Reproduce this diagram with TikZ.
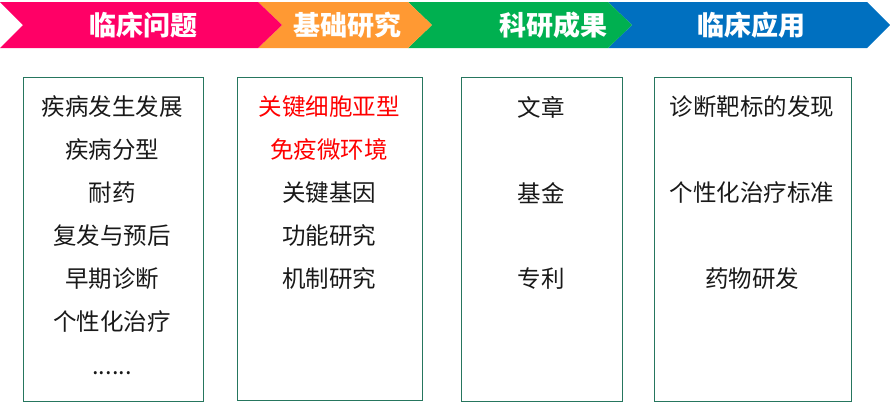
\documentclass[tikz,border=0pt]{standalone}
\usepackage{fontspec}
\newfontfamily\cjk{Noto Sans CJK SC}
\definecolor{cpink}{RGB}{255,0,102}
\definecolor{corange}{RGB}{255,153,51}
\definecolor{cgreen}{RGB}{0,176,80}
\definecolor{cblue}{RGB}{0,112,192}
\definecolor{cborder}{RGB}{38,118,94}
\definecolor{cred}{RGB}{255,0,0}
\begin{document}
\begin{tikzpicture}[x=1pt,y=-1pt,
  title/.style={font=\cjk\bfseries\fontsize{27}{27}\selectfont, text=white, inner sep=0pt},
  panel/.style={draw=cborder, line width=1pt},
  item/.style={font=\cjk\fontsize{23.5}{24}\selectfont, text=black!90, inner sep=0pt},
  hot/.style={item, text=cred}]
\useasboundingbox (0,0) rectangle (890,402);
% chevrons
\fill[cblue] (608,2) -- (867,2) -- (890,25) -- (867,48) -- (608,48) -- (632,25) -- cycle;
\fill[cgreen] (408,2) -- (608,2) -- (632,25) -- (608,48) -- (408,48) -- (432,25) -- cycle;
\fill[corange] (258,2) -- (408,2) -- (432,25) -- (408,48) -- (258,48) -- (282,25) -- cycle;
\fill[cpink] (0,2) -- (258,2) -- (282,25) -- (258,48) -- (0,48) -- (23,25) -- cycle;
\node[title] (t1) at (143,25) {临床问题};
\node[title] (t2) at (347,25) {基础研究};
\node[title] (t3) at (553,25) {科研成果};
\node[title] (t4) at (751,25) {临床应用};
% panels
\draw[panel] (23,77) rectangle (203,401);
\draw[panel] (237,77) rectangle (422,400);
\draw[panel] (461,77) rectangle (622,401);
\draw[panel] (654,77) rectangle (851,401);
% column 1
\node[item] (a1) at (112,107) {疾病发生发展};
\node[item] (a2) at (112,150) {疾病分型};
\node[item] (a3) at (112,193) {耐药};
\node[item] (a4) at (112,236) {复发与预后};
\node[item] (a5) at (112,279) {早期诊断};
\node[item] (a6) at (112,322) {个性化治疗};
\node[item, anchor=base] (a7) at (112,374) {......};
% column 2
\node[hot] (b1) at (329,107) {关键细胞亚型};
\node[hot] (b2) at (329,150) {免疫微环境};
\node[item] (b3) at (329,193) {关键基因};
\node[item] (b4) at (329,236) {功能研究};
\node[item] (b5) at (329,279) {机制研究};
% column 3
\node[item] (c1) at (541,107) {文章};
\node[item] (c2) at (541,193) {基金};
\node[item] (c3) at (541,279) {专利};
% column 4
\node[item] (d1) at (752,107) {诊断靶标的发现};
\node[item] (d2) at (752,193) {个性化治疗标准};
\node[item] (d3) at (752,279) {药物研发};
\end{tikzpicture}
\end{document}
